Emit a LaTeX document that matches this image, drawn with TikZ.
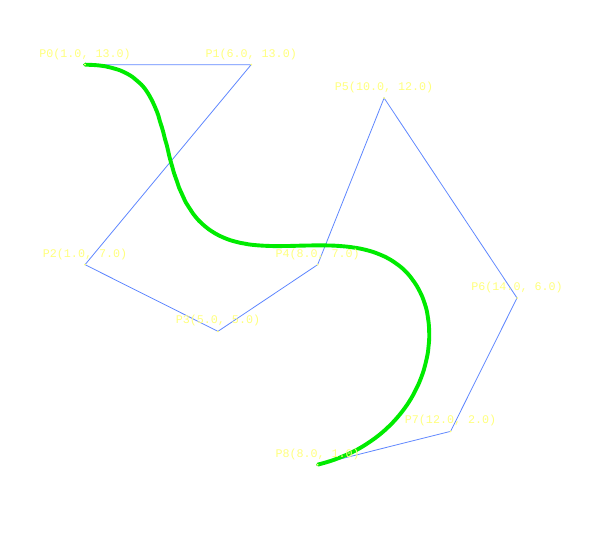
\documentclass[tikz,border=0pt]{standalone}
\usepackage{fontspec}
\setmonofont{Liberation Mono}
\definecolor{polyblue}{RGB}{95,135,255}
\definecolor{curvegreen}{RGB}{0,235,0}
\definecolor{labelyellow}{RGB}{255,255,125}
\tikzset{
  ptlabel/.style={anchor=south,inner sep=0pt,yshift=5pt,text=labelyellow,font=\fontsize{11.7}{12}\selectfont\ttfamily},
  ptdot/.style={fill=labelyellow},
  polyline/.style={draw=polyblue,line width=0.8pt},
  bezcurve/.style={draw=curvegreen,line width=3.9pt,line cap=round}
}
\begin{document}
\begin{tikzpicture}[x=33.23pt,y=33.333pt]
\useasboundingbox (-51.8pt,-52pt) rectangle (543.2pt,498pt);

%Control points
\coordinate (P0) at (1,13);
\coordinate (P1) at (6,13);
\coordinate (P2) at (1,7);
\coordinate (P3) at (5,5);
\coordinate (P4) at (8,7);
\coordinate (P5) at (10,12);
\coordinate (P6) at (14,6);
\coordinate (P7) at (12,2);
\coordinate (P8) at (8,1);

%Control polygon
\draw [polyline] (P0) -- (P1) -- (P2) -- (P3) -- (P4) -- (P5) -- (P6) -- (P7) -- (P8) ;

%Bezier curve of degree 8
\draw [bezcurve] plot [domain=0:1,samples=121,smooth,variable=\t]
  ({1*(1-\t)^8 + 48*\t*(1-\t)^7 + 28*\t^2*(1-\t)^6 + 280*\t^3*(1-\t)^5 + 560*\t^4*(1-\t)^4 + 560*\t^5*(1-\t)^3 + 392*\t^6*(1-\t)^2 + 96*\t^7*(1-\t) + 8*\t^8},
   {13*(1-\t)^8 + 104*\t*(1-\t)^7 + 196*\t^2*(1-\t)^6 + 280*\t^3*(1-\t)^5 + 490*\t^4*(1-\t)^4 + 672*\t^5*(1-\t)^3 + 168*\t^6*(1-\t)^2 + 16*\t^7*(1-\t) + 1*\t^8}) ;

%Point marks
\fill [ptdot] (P0) circle (1pt) (P1) circle (1pt) (P2) circle (1pt) (P3) circle (1pt) (P4) circle (1pt)
  (P5) circle (1pt) (P6) circle (1pt) (P7) circle (1pt) (P8) circle (1pt) ;

% Text Node
\node [ptlabel] (L0) at (P0) {P0(1.0, 13.0)};
% Text Node
\node [ptlabel] (L1) at (P1) {P1(6.0, 13.0)};
% Text Node
\node [ptlabel] (L2) at (P2) {P2(1.0, 7.0)};
% Text Node
\node [ptlabel] (L3) at (P3) {P3(5.0, 5.0)};
% Text Node
\node [ptlabel] (L4) at (P4) {P4(8.0, 7.0)};
% Text Node
\node [ptlabel] (L5) at (P5) {P5(10.0, 12.0)};
% Text Node
\node [ptlabel] (L6) at (P6) {P6(14.0, 6.0)};
% Text Node
\node [ptlabel] (L7) at (P7) {P7(12.0, 2.0)};
% Text Node
\node [ptlabel] (L8) at (P8) {P8(8.0, 1.0)};

\end{tikzpicture}
\end{document}
